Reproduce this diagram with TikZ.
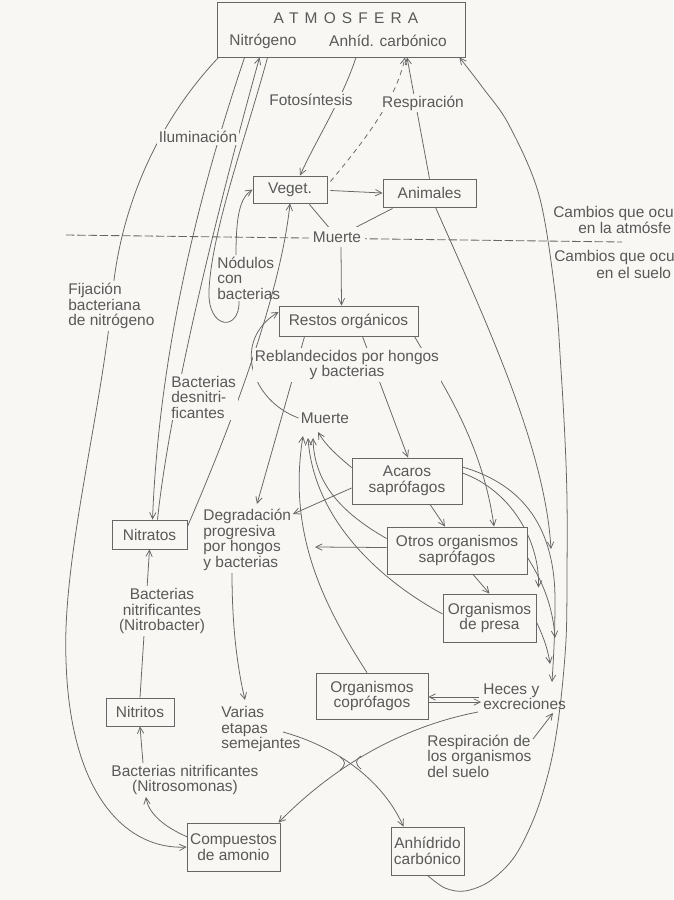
\documentclass[tikz,border=0pt]{standalone}
\usepackage{fontspec}
\setmainfont{Liberation Sans}
\usetikzlibrary{arrows.meta,calc}
\definecolor{bg}{HTML}{F8F7F3}
\definecolor{ink}{HTML}{595959}
\definecolor{ln}{HTML}{666666}
\pgfdeclarelayer{back}
\pgfdeclarelayer{lines}
\pgfsetlayers{back,lines,main}
\begin{document}
\begin{tikzpicture}[x=0.025cm,y=-0.025cm,
  every node/.style={font=\fontsize{11}{11}\selectfont, text=ink},
  lbl/.style={inner sep=1.5pt, align=center},
  flbl/.style={fill=bg, inner sep=1.5pt, align=center},
  edge/.style={inner sep=0pt, anchor=west},
  box/.style={draw=ln, line width=0.6pt, inner sep=0pt, align=center, fill=bg},
  con/.style={draw=ln, line width=0.55pt},
  arr/.style={con, -{Straight Barb[length=4.5pt,width=4.5pt]}},
  dashcon/.style={dash pattern=on 3.5pt off 3pt},
  divider/.style={draw=ln, line width=0.6pt, dash pattern=on 6pt off 2pt},
]
\useasboundingbox (0,0) rectangle (673,900);
\begin{pgfonlayer}{back}
  \fill[bg] (0,0) rectangle (673,900);
\end{pgfonlayer}

% ---------- boxes ----------
\node[box, minimum width=6.2cm, minimum height=1.375cm] (atm) at (341,29.5) {};
\node (atmT) at (346,18) {\addfontfeatures{LetterSpace=40}ATMOSFERA};
\node (atmN) at (263,41) {Nitrógeno};
\node (atmC) at (388,41) {Anhíd. carbónico};
\node[box, minimum width=1.85cm, minimum height=0.675cm] (veget) at (290,189.5) {Veget.};
\node[box, minimum width=2.325cm, minimum height=0.7cm] (anim) at (429.5,193) {Animales};
\node[box, minimum width=3.475cm, minimum height=0.75cm] (restos) at (348.5,321) {Restos orgánicos};
\node[box, minimum width=2.75cm, minimum height=1.15cm] (acaros) at (407,481) {Acaros\\saprófagos};
\node[box, minimum width=1.875cm, minimum height=0.725cm] (nitratos) at (149.5,534.5) {Nitratos};
\node[box, minimum width=3.5cm, minimum height=1.175cm] (otros) at (457,550.5) {Otros organismos\\saprófagos};
\node[box, minimum width=2.325cm, minimum height=1.2cm] (presa) at (489.5,618) {Organismos\\de presa};
\node[box, minimum width=2.8cm, minimum height=1.15cm] (copro) at (372,696) {Organismos\\coprófagos};
\node[box, minimum width=1.7cm, minimum height=0.7cm] (nitritos) at (140,712) {Nitritos};
\node[box, minimum width=2.325cm, minimum height=1.2cm] (compuestos) at (233.5,847) {Compuestos\\de amonio};
\node[box, minimum width=1.825cm, minimum height=1.2cm] (anhid) at (427.5,851) {Anhídrido\\carbónico};

% ---------- labels ----------
\node[flbl] (foto) at (311,100) {Fotosíntesis};
\node[flbl] (resp1) at (423,103) {Respiración};
\node[flbl] (ilum) at (198,137) {Iluminación};
\node[flbl, inner sep=3pt] (muerte1) at (337,237) {Muerte};
\node[lbl, align=left, anchor=west] (nodulos) at (215,278) {Nódulos\\con\\bacterias};
\node[flbl, align=left, anchor=west] (fij) at (66,306) {Fijación\\bacteriana\\de nitrógeno};
\node[flbl] (rebl) at (347,365) {Reblandecidos por hongos\\y bacterias};
\node[flbl, align=left, anchor=west] (desn) at (169,397) {Bacterias\\desnitri-\\ficantes};
\node[lbl] (muerte2) at (325,418) {Muerte};
\node[lbl, align=left, anchor=west] (degr) at (201,540) {Degradación\\progresiva\\por hongos\\y bacterias};
\node[flbl] (nbact) at (162,611) {Bacterias\\nitrificantes\\(Nitrobacter)};
\node[lbl, align=left, anchor=west] (heces) at (481,697) {Heces y\\excreciones};
\node[lbl, align=left, anchor=west] (varias) at (219,729) {Varias\\etapas\\semejantes};
\node[lbl, align=left, anchor=west] (respsuelo) at (425,756) {Respiración de\\los organismos\\del suelo};
\node[lbl] (nsomo) at (185,780) {Bacterias nitrificantes\\(Nitrosomonas)};
\node[edge] (camb1a) at (553,213) {Cambios que ocu};
\node[edge] (camb1b) at (578,228) {en la atmósfe};
\node[edge] (camb2a) at (554,257) {Cambios que ocu};
\node[edge] (camb2b) at (596,273) {en el suelo};

% ---------- free ends ----------
\coordinate (muA) at (318,432);
\coordinate (muB) at (313,438);
\coordinate (muC) at (308,438);
\coordinate (muD) at (303,436);
\coordinate (degrT) at (257,504);
\coordinate (degrA) at (293,514);
\coordinate (degrB) at (315,547);
\coordinate (degrBot) at (232,573);
\coordinate (variasT) at (245,700);
\coordinate (variasR) at (283,732);
\coordinate (nsB) at (146,797);
\coordinate (nsT) at (143,763);
\coordinate (hecesA) at (479,697);
\coordinate (hecesB) at (481,702);
\coordinate (hecesC) at (478,712);
\coordinate (hecesD) at (553,713);
\coordinate (rsR) at (533,739);
\coordinate (rightA) at (551,549);
\coordinate (rightC) at (555,638);
\coordinate (rightD) at (550,664);
\coordinate (rightE) at (552,682);
\coordinate (nodB) at (239,301);
\coordinate (nodT) at (236,255);
\coordinate (atmR) at ($(atm.south east)+(-6,0)$);

% ---------- connectors ----------
\begin{pgfonlayer}{lines}
% divider
\draw[divider] (66,235) -- (622,242);
% fixation
\draw[arr] ($(atm.south west)+(2,0)$) .. controls (150,130) and (118,220) .. (112,300)
  .. controls (100,420) and (62,560) .. (66,660) .. controls (70,800) and (130,850) .. (compuestos.west);
% lightning
\draw[arr] ($(atm.south west)+(28,0)$) .. controls (210,160) and (160,330) .. ($(nitratos.north)+(3,0)$);
% denitrification
\draw[arr] ($(nitratos.north)+(8,0)$) .. controls (170,400) and (220,200) .. ($(atm.south west)+(43,0)$);
% nodules
\draw[con] ($(atm.south west)+(51,0)$) .. controls (245,140) and (212,230) .. (209,290)
  .. controls (207,330) and (240,332) .. (nodB);
\draw[arr] (nodT) .. controls (236,215) and (240,198) .. (veget.west);
% photosynthesis / respiration
\draw[arr] ($(atm.south)+(15,0)$) .. controls (342,100) and (316,140) .. ($(veget.north)+(10,0)$);
\draw[arr, dashcon] ($(veget.east)+(3,-8)$) .. controls (365,140) and (396,100) .. ($(atm.south)+(64,0)$);
\draw[arr] (anim.north) -- ($(atm.south)+(66,0)$);
\draw[arr] ($(veget.east)+(3,1)$) -- (anim.west);
% death
\draw[con] ($(veget.south east)+(-18,1)$) -- (muerte1);
\draw[con] ($(anim.south west)+(10,1)$) -- (muerte1);
\draw[arr] ($(muerte1.south)+(4,0)$) -- ($(restos.north)+(-7,0)$);
% nitrates to plants
\draw[arr] ($(nitratos.north east)+(0,7)$) .. controls (225,440) and (280,300) .. (veget.south);
% soil death to remains
\draw[arr] (muerte2.west) .. controls (250,400) and (232,340) .. ($(restos.west)+(0,-9)$);
% remains
\draw[arr] ($(restos.south west)+(26,0)$) -- (degrT);
\draw[arr] ($(restos.south)+(14,0)$) -- ($(acaros.north)+(1,0)$);
\draw[arr] ($(restos.south east)+(-4,0)$) .. controls (440,380) and (482,440) .. ($(otros.north)+(37,0)$);
% food chain
\draw[arr] ($(acaros.south)+(23,0)$) -- ($(otros.north)+(-12,0)$);
\draw[arr] ($(otros.south)+(16,0)$) -- (presa.north);
\draw[arr] ($(acaros.west)+(0,7)$) -- (degrA);
\draw[arr] ($(otros.west)+(0,-3)$) -- (degrB);
% to soil death
\draw[arr] ($(acaros.north west)+(0,10)$) .. controls (338,456) and (326,446) .. (muA);
\draw[arr] ($(otros.west)+(0,-12)$) .. controls (340,512) and (314,482) .. (muB);
\draw[arr] ($(presa.west)+(0,-4)$) .. controls (380,580) and (314,520) .. (muC);
\draw[arr] ($(copro.north)+(-5,0)$) .. controls (320,600) and (288,530) .. (muD);
% degradation
\draw[arr] (degrBot) .. controls (232,630) and (238,670) .. (variasT);
% nitrification
\draw[arr] (nitritos.north) -- (nitratos.south);
\draw[arr] ($(compuestos.west)+(1,-10)$) .. controls (162,826) and (148,812) .. (nsB);
\draw[arr] (nsT) -- (nitritos.south);
% faeces
\draw[arr] (hecesA) -- ($(copro.east)+(0,1)$);
\draw[arr] ($(copro.east)+(0,6)$) -- (hecesB);
\draw[arr] (hecesC) .. controls (410,725) and (340,760) .. ($(compuestos.north east)+(-2,0)$);
\draw[arr] (variasR) .. controls (330,745) and (380,775) .. ($(anhid.north)+(-24,0)$);
\draw[con] (340,757) .. controls (346,761) and (346,765) .. (340,770);
\draw[con] (361,756) .. controls (355,760) and (355,764) .. (361,769);
% big return curve
\draw[arr] plot[smooth, tension=0.55] coordinates {(anhid.south) (445,888) (465,891) (490,881)
  (515,856) (536,813) (551,762) (560,707) (566,640) (567,575) (567,500) (565,440) (561,370)
  (555,292) (539,195) (509,125) (483,88) (atmR)};
% to faeces
\draw[arr] ($(anim.south)+(6,0)$) .. controls (490,330) and (545,450) .. (rightA);
\draw[arr] ($(acaros.east)+(0,-14)$) .. controls (525,485) and (555,530) .. (555,600)
  .. controls (555,640) and (553,665) .. (rightE);
\draw[arr] ($(acaros.east)+(0,-8)$) .. controls (510,490) and (540,540) .. ($(presa.north east)+(2,-6)$);
\draw[arr] ($(otros.east)+(0,7)$) .. controls (545,585) and (553,610) .. (rightC);
\draw[arr] ($(presa.east)+(0,4)$) .. controls (544,638) and (548,650) .. (rightD);
\draw[arr] (rsR) -- (hecesD);
\end{pgfonlayer}
\end{tikzpicture}
\end{document}
